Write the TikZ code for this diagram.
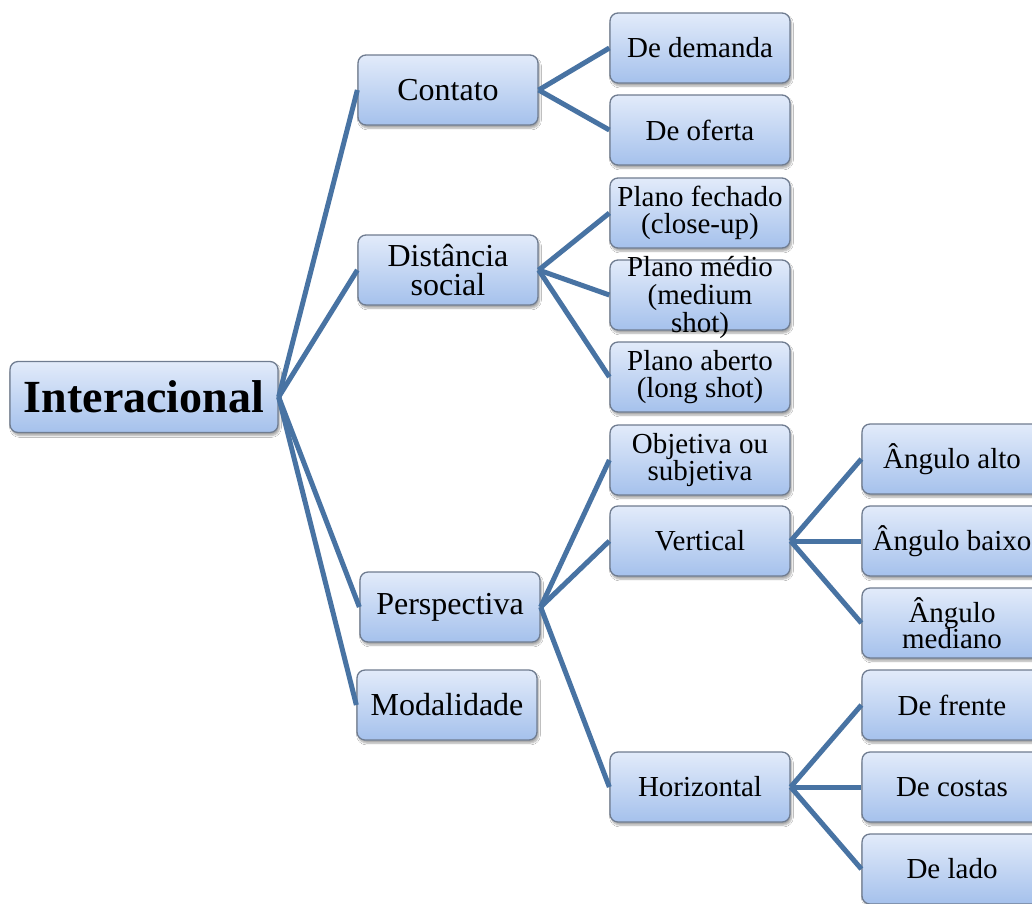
\documentclass[tikz,border=0pt]{standalone}
\usepackage{fontspec}
\setmainfont{Liberation Serif}
\usetikzlibrary{shadows.blur}
\definecolor{boxtop}{HTML}{E2EBFA}
\definecolor{boxbot}{HTML}{A5C1EC}
\definecolor{boxline}{HTML}{6F7C90}
\definecolor{link}{HTML}{4873A3}
\tikzset{
  box/.style={draw=boxline, line width=1.3pt, rounded corners=8pt,
    top color=boxtop, bottom color=boxbot,
    minimum width=180pt, minimum height=70pt, inner sep=0pt,
    align=center, text=black,
    blur shadow={shadow blur steps=6, shadow xshift=1.5pt, shadow yshift=-3pt, shadow opacity=35}},
  lvltwo/.style={box, font=\fontsize{32}{29}\selectfont},
  lvlthree/.style={box, font=\fontsize{29}{26.5}\selectfont},
  root/.style={box, minimum width=268pt, minimum height=71pt, font=\fontsize{46}{50}\selectfont\bfseries},
  link/.style={draw=link, line width=5pt, line cap=butt}
}
\begin{document}
\begin{tikzpicture}[x=1pt, y=-1pt]
\useasboundingbox (0,0) rectangle (1032,903);
\fill[white] (0,0) rectangle (1032,903);

% root
\node[root] (int) at (144,397) {Interacional};

% second level
\node[lvltwo] (cont) at (448,90)  {Contato};
\node[lvltwo] (dist) at (448,270) {Distância\\social};
\node[lvltwo] (pers) at (450,607) {Perspectiva};
\node[lvltwo] (moda) at (447,705) {Modalidade};

% third level
\node[lvlthree] (dem)  at (700,48)  {De demanda};
\node[lvlthree] (ofe)  at (700,130) {De oferta};
\node[lvlthree] (fech) at (700,213) {Plano fechado\\(close-up)};
% three lines in a box of fixed height: the text runs over its lower edge
\node[lvlthree] (med)  at (700,295) {\smash{\raisebox{-10pt}{\begin{tabular}{@{}c@{}}Plano médio\\(medium\\shot)\end{tabular}}}};
\node[lvlthree] (abe)  at (700,377) {Plano aberto\\(long shot)};
\node[lvlthree] (obj)  at (700,460) {Objetiva ou\\subjetiva};
\node[lvlthree] (vert) at (700,541) {Vertical};
\node[lvlthree] (hor)  at (700,787) {Horizontal};

% fourth level
\node[lvlthree] (alto) at (952,459) {Ângulo alto};
\node[lvlthree] (baix) at (952,541) {Ângulo baixo};
\node[lvlthree] (medi) at (952,623) {Ângulo\\mediano};
\node[lvlthree] (fren) at (952,705) {De frente};
\node[lvlthree] (cost) at (952,787) {De costas};
\node[lvlthree] (lado) at (952,869) {De lado};

% connectors
\foreach \c in {cont,dist,pers,moda} \draw[link] (int.east) -- (\c.west);
\foreach \c in {dem,ofe} \draw[link] (cont.east) -- (\c.west);
\foreach \c in {fech,med,abe} \draw[link] (dist.east) -- (\c.west);
\foreach \c in {obj,vert,hor} \draw[link] (pers.east) -- (\c.west);
\foreach \c in {alto,baix,medi} \draw[link] (vert.east) -- (\c.west);
\foreach \c in {fren,cost,lado} \draw[link] (hor.east) -- (\c.west);
\end{tikzpicture}
\end{document}
